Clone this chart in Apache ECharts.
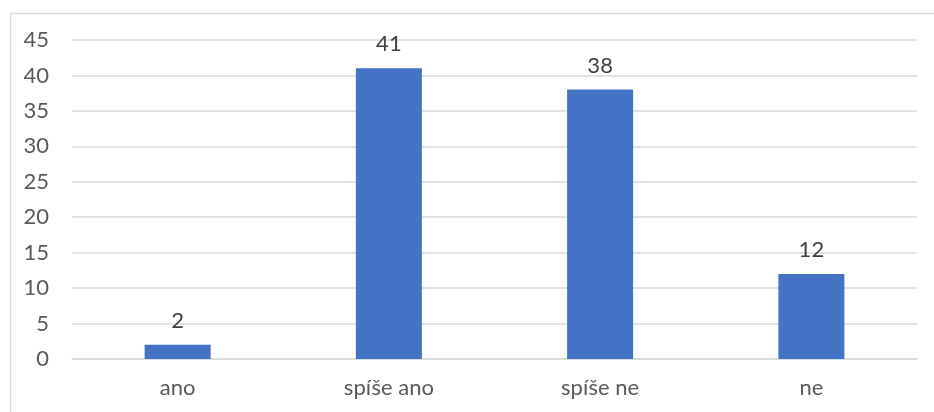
<!DOCTYPE html>
<html><head><meta charset="utf-8">
<script src="https://cdn.jsdelivr.net/npm/echarts@6/dist/echarts.min.js"></script>
<style>html,body{margin:0;padding:0;background:#fff;}#c{width:934px;height:412px;}</style>
</head><body><div id="c"></div>
<script>
const categories = ['ano', 'spíše ano', 'spíše ne', 'ne'];
const values = [2, 41, 38, 12];
const yTicks = { min: 0, max: 45, interval: 5 };

const chart = echarts.init(document.getElementById('c'), null, { renderer: 'canvas' });
const font = 'Lato';
chart.setOption({
  animation: false,
  backgroundColor: '#fff',
  graphic: [{
    type: 'rect', left: 8, top: 11, z: -1,
    shape: { x: 8.5, y: 11.5, width: 1000, height: 500 },
    style: { fill: 'none', stroke: '#d9d9d9', lineWidth: 1.5 }
  }],
  grid: { left: 72, right: 17, top: 40, bottom: 53, containLabel: false },
  xAxis: {
    type: 'category', data: categories,
    axisLine: { show: true, lineStyle: { color: '#d9d9d9', width: 1.5 } },
    axisTick: { show: false },
    axisLabel: { color: '#595959', fontSize: 22, fontFamily: font, margin: 18 }
  },
  yAxis: {
    type: 'value', min: yTicks.min, max: yTicks.max, interval: yTicks.interval,
    axisLine: { show: false }, axisTick: { show: false },
    splitLine: { lineStyle: { color: '#d9d9d9', width: 1.5 } },
    axisLabel: { color: '#595959', fontSize: 22, fontFamily: font, margin: 23 }
  },
  series: [{
    type: 'bar', data: values, barWidth: 66,
    itemStyle: { color: '#4472C4' },
    label: { show: true, position: 'top', distance: 13, color: '#404040', fontSize: 22, fontFamily: font }
  }]
});
</script></body></html>
